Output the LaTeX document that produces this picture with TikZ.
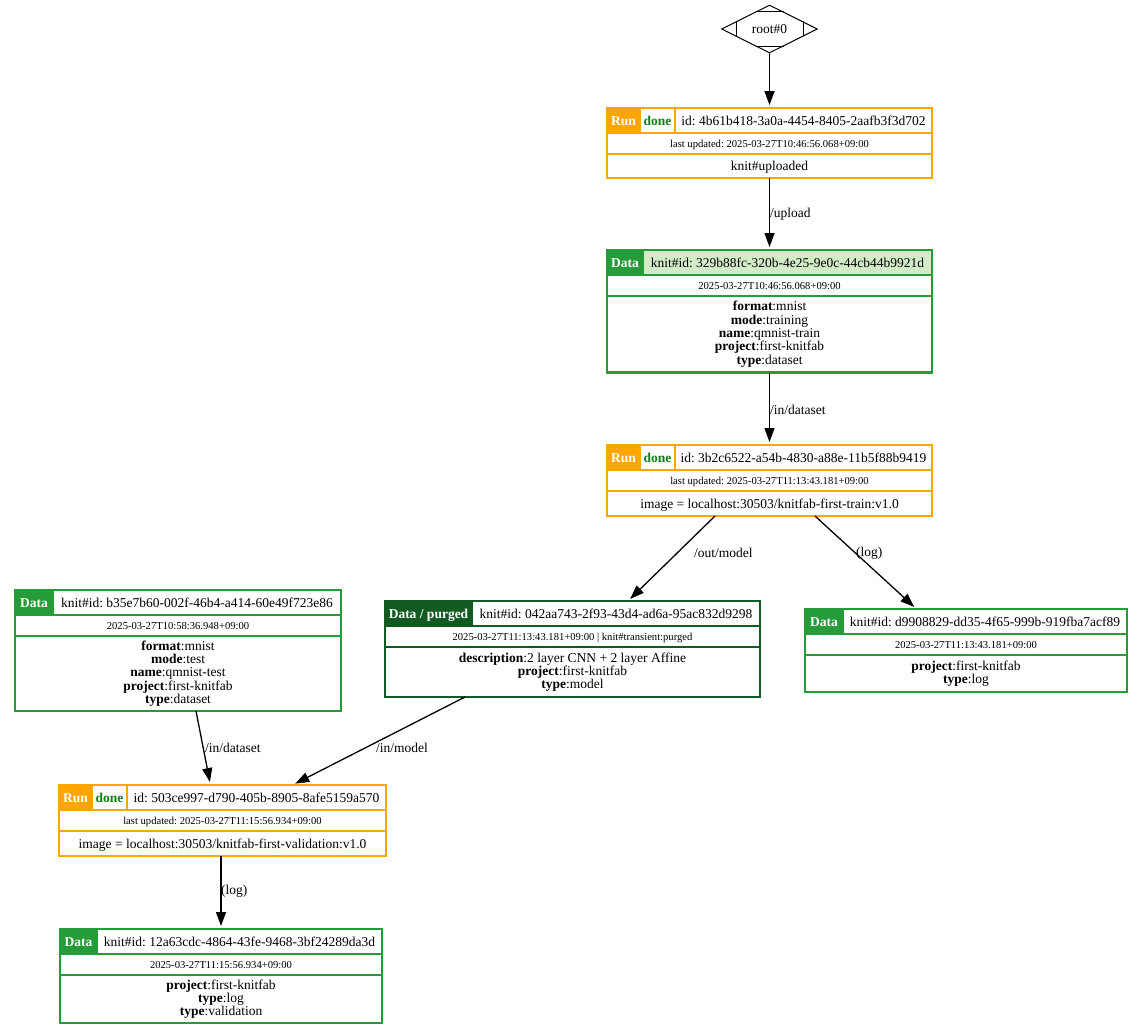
\documentclass[tikz,border=0pt]{standalone}
\usepackage{fontspec}
\setmainfont{Liberation Serif}
\usetikzlibrary{arrows.meta,shapes.geometric,calc}
\frenchspacing

\definecolor{runorange}{HTML}{FFA500}
\definecolor{datagreen}{HTML}{259B3A}
\definecolor{purgegreen}{HTML}{125A22}
\definecolor{idgreen}{HTML}{D3ECC7}
\definecolor{donegreen}{HTML}{0C800C}
\colorlet{tabline}{datagreen}
\colorlet{tabid}{white}

\tikzset{
  big/.style={font=\fontsize{13.5}{13.3}\selectfont},
  bigbold/.style={font=\fontsize{13.5}{13.3}\selectfont\bfseries},
  small/.style={font=\fontsize{10.6}{12}\selectfont},
  frame/.style={anchor=north west, inner sep=0pt, outer sep=0pt},
  celltext/.style={anchor=base, inner sep=0pt},
  edge/.style={-{Triangle[length=14pt,width=10pt]}, line width=1.3pt, shorten >=3pt},
  edgelabel/.style={big, anchor=west, inner sep=0pt},
}

% Run table: name, top-left corner, width, height, id, updated, info
\newcommand{\RunTable}[7]{%
  \node[frame, minimum width=#3pt, minimum height=#4pt] (#1) at #2 {};
  \begin{scope}[shift={(#1.north west)}]
    \fill[white] (0,0) rectangle (#3,#4);
    \fill[runorange] (0,0) rectangle (33,25);
    \draw[runorange, line width=1.6pt]
      (0,25) -- (#3,25) (0,46) -- (#3,46) (33,0) -- (33,25) (68,0) -- (68,25);
    \node[bigbold, celltext, text=white] (#1-kind) at (16.5,17) {Run};
    \node[bigbold, celltext, text=donegreen] (#1-state) at (50.5,17) {done};
    \node[big, celltext] (#1-id) at ({(68+#3)/2},17) {#5};
    \node[small, celltext] (#1-time) at ({#3/2},39) {#6};
    \node[big, celltext] (#1-info) at ({#3/2},{(46+#4)/2+4.5}) {#7};
  \end{scope}
  \draw[runorange, line width=2.4pt] (#1.north west) rectangle (#1.south east);
}

% Data table: name, top-left corner, width, height, label width, label, id, date, body
\newcommand{\DataTable}[9]{%
  \node[frame, minimum width=#3pt, minimum height=#4pt] (#1) at #2 {};
  \begin{scope}[shift={(#1.north west)}]
    \fill[white] (0,0) rectangle (#3,#4);
    \fill[tabid] (#5,0) rectangle (#3,25);
    \fill[tabline] (0,0) rectangle (#5,25);
    \draw[tabline, line width=1.6pt]
      (0,25) -- (#3,25) (0,46) -- (#3,46) (#5,0) -- (#5,25);
    \node[bigbold, celltext, text=white] (#1-kind) at ({#5/2},17) {#6};
    \node[big, celltext] (#1-id) at ({(#5+#3)/2},17) {#7};
    \node[small, celltext] (#1-time) at ({#3/2},39.5) {#8};
    \node[big, align=center, inner sep=0pt] (#1-body) at ({#3/2},{(46+#4)/2}) {#9};
  \end{scope}
  \draw[tabline, line width=2.4pt] (#1.north west) rectangle (#1.south east);
}

\begin{document}
\begin{tikzpicture}[x=1pt, y=-1pt]
\useasboundingbox (0,0) rectangle (1143,1033);

% root marker
\node[draw, diamond, aspect=2, minimum width=96pt, minimum height=48pt,
      inner sep=0pt, line width=1pt, big] (root) at (769.5,29) {root\#0};
\draw[line width=1pt]
  ($(root.north)+(-14,7)$) -- ($(root.north)+(14,7)$)
  ($(root.south)+(-14,-7)$) -- ($(root.south)+(14,-7)$)
  ($(root.west)+(15,-7.5)$) -- ($(root.west)+(15,7.5)$)
  ($(root.east)+(-15,-7.5)$) -- ($(root.east)+(-15,7.5)$);

% runs
\RunTable{run1}{(607,108)}{325}{70}{id: 4b61b418-3a0a-4454-8405-2aafb3f3d702}{last updated: 2025-03-27T10:46:56.068+09:00}{knit\#uploaded}
\RunTable{run2}{(607,445)}{325}{71}{id: 3b2c6522-a54b-4830-a88e-11b5f88b9419}{last updated: 2025-03-27T11:13:43.181+09:00}{image = localhost:30503/knitfab-first-train:v1.0}
\RunTable{runb}{(59,785)}{327}{71}{id: 503ce997-d790-405b-8905-8afe5159a570}{last updated: 2025-03-27T11:15:56.934+09:00}{image = localhost:30503/knitfab-first-validation:v1.0}

% data
\colorlet{tabline}{datagreen}\colorlet{tabid}{idgreen}
\DataTable{data1}{(607,250)}{325}{122.5}{36}{Data}{knit\#id: 329b88fc-320b-4e25-9e0c-44cb44b9921d}{2025-03-27T10:46:56.068+09:00}{\textbf{format}:mnist\\\textbf{mode}:training\\\textbf{name}:qmnist-train\\\textbf{project}:first-knitfab\\\textbf{type}:dataset}

\colorlet{tabline}{purgegreen}\colorlet{tabid}{white}
\DataTable{purged}{(385,601)}{375}{96}{87}{Data / purged}{knit\#id: 042aa743-2f93-43d4-ad6a-95ac832d9298}{2025-03-27T11:13:43.181+09:00 | knit\#transient:purged}{\textbf{description}:2 layer CNN + 2 layer Affine\\\textbf{project}:first-knitfab\\\textbf{type}:model}

\colorlet{tabline}{datagreen}\colorlet{tabid}{white}
\DataTable{datar}{(805,609)}{322}{83}{38}{Data}{knit\#id: d9908829-dd35-4f65-999b-919fba7acf89}{2025-03-27T11:13:43.181+09:00}{\textbf{project}:first-knitfab\\\textbf{type}:log}
\DataTable{datal}{(15,590)}{326}{121}{38}{Data}{knit\#id: b35e7b60-002f-46b4-a414-60e49f723e86}{2025-03-27T10:58:36.948+09:00}{\textbf{format}:mnist\\\textbf{mode}:test\\\textbf{name}:qmnist-test\\\textbf{project}:first-knitfab\\\textbf{type}:dataset}
\DataTable{datab}{(60,929)}{322}{94}{37}{Data}{knit\#id: 12a63cdc-4864-43fe-9468-3bf24289da3d}{2025-03-27T11:15:56.934+09:00}{\textbf{project}:first-knitfab\\\textbf{type}:log\\\textbf{type}:validation}

% connectors
\draw[edge] (root.south) -- (run1.north);
\draw[edge] (run1.south) -- (data1.north);
\draw[edge] (data1.south) -- (run2.north);
\draw[edge] ([xshift=-54.5pt]run2.south) -- ([xshift=55.5pt]purged.north);
\draw[edge] ([xshift=45.5pt]run2.south) -- ([xshift=-49.5pt]datar.north);
\draw[edge] ([xshift=18pt]datal.south) -- ([xshift=-12pt]runb.north);
\draw[edge] ([xshift=-107.5pt]purged.south) -- ([xshift=70pt]runb.north);
\draw[edge] ([xshift=-1.5pt]runb.south) -- (datab.north);

% connector labels
\node[edgelabel] (l-upload) at (770,214) {/upload};
\node[edgelabel] (l-train) at (770,410) {/in/dataset};
\node[edgelabel] (l-model) at (694,553) {/out/model};
\node[edgelabel] (l-log) at (856,553) {(log)};
\node[edgelabel] (l-test) at (205,748) {/in/dataset};
\node[edgelabel] (l-inmodel) at (376,748) {/in/model};
\node[edgelabel] (l-vlog) at (221,891) {(log)};
\end{tikzpicture}
\end{document}
